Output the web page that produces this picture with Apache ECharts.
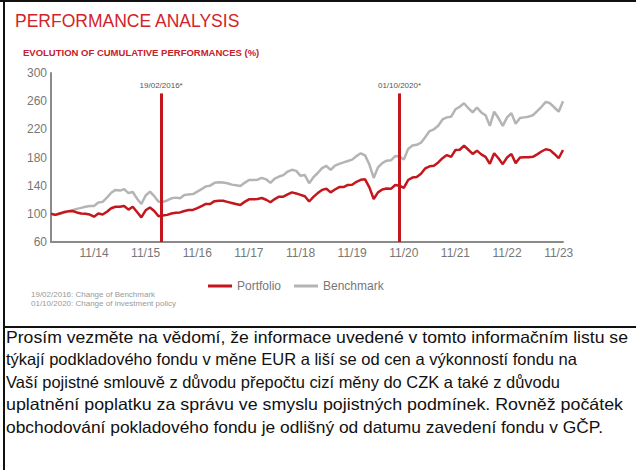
<!DOCTYPE html>
<html>
<head>
<meta charset="utf-8">
<script src="https://cdn.jsdelivr.net/npm/echarts@6/dist/echarts.min.js"></script>
<style>
html,body{margin:0;padding:0;background:#fff;}
#wrap{position:relative;width:636px;height:470px;overflow:hidden;}
#c{position:absolute;left:0;top:0;width:636px;height:470px;}
#para{position:absolute;left:6px;top:0;font-family:'Liberation Sans',Arial,sans-serif;font-size:16.5px;color:#111;}
#para div{position:absolute;left:0;white-space:nowrap;transform-origin:0 50%;line-height:20px;}
</style>
</head>
<body>
<div id="wrap"><div id="c"></div><div id="para"></div></div>
<script>
// Monthly categories Jan 2014 .. Dec 2023
var years = [14,15,16,17,18,19,20,21,22,23];
var categories = [];
years.forEach(function(y){ for (var m=1;m<=12;m++){ categories.push((m<10?'0':'')+m+'/'+y); } });

var portfolio = [
100,98.5,100.5,102.5,103.5,104,102,100.5,100,99,
96,100.5,99,103,108,110,110,111,106,110,
102.5,95,105,109,104,96.5,97.5,98.5,100.5,101.5,
102,104,105.5,105.5,108,111,114,114,118,118.7,
118.5,117,115.5,114,112.6,117,120.6,120.6,121,122.5,
120,116.5,121,124.4,124.4,127.5,130.5,129,127,125,
117.5,124,129.5,134,135.5,130.5,134.5,138,138,141,
141.4,145.5,148.3,149,137.5,121,130.5,134.5,136,135.5,
141,140,137,148,151.5,152.3,157,164.7,167.5,168.3,
173,179,183.5,181,190.7,191,197,191,185,189.7,
184.5,181,171,186,179,170.5,180,185,172,180,
180.3,180.5,181,184.5,188.5,191.7,190.5,185,179,190.7
];
var benchmark = [
100,98.5,100,101.5,103.5,105,107,108.5,110,111,
111,116,117,123,130,134,133,135,129.5,131,
121.5,114,126,131.5,125,117,117,119,122,123,
122,126.8,127.5,128,131.5,135,139,140,144,145,
144.5,143.5,141.5,140.5,139.5,144,148,148,148.5,151,
149,144,150,153,155,160,162.5,161,154,155,
143.5,152,158,165,168,162.5,168.5,171,173,175,
177,182,186,183,170,151,166,172,175.5,176,
182,181.5,177,192,197,198,201,209,217.5,220,
225,234,237,238,248.5,252,257,250,244,251,
244,240,225,245,236,225,237,243,228,236,
237,238,240,246,252,259,257,251,245,260
];
var yTicks = {min:60, max:300, interval:40};
// event markers: position as month index from Jan 2014, label
var eventPos = [25.6, 81];
var eventLabels = ['19/02/2016*', '01/10/2020*'];
var eventTop = 271;
var footnotes = ['19/02/2016: Change of Benchmark', '01/10/2020: Change of investment policy'];
var disclaimer = [
'Prosím vezměte na vědomí, že informace uvedené v tomto informačním listu se',
'týkají podkladového fondu v měne EUR a liší se od cen a výkonností fondu na',
'Vaší pojistné smlouvě z důvodu přepočtu cizí měny do CZK a také z důvodu',
'uplatnění poplatku za správu ve smyslu pojistných podmínek. Rovněž počátek',
'obchodování pokladového fondu je odlišný od datumu zavedení fondu v GČP.'
];

var RED = '#c4161c', GRAY = '#b4b4b4', FONT = 'Liberation Sans, Arial, sans-serif';
var chart = echarts.init(document.getElementById('c'), null, {renderer:'svg'});

var markData = eventPos.map(function(p, k){
  return [{coord:[p, yTicks.min], label:{formatter: eventLabels[k]}}, {coord:[p, eventTop]}];
});

chart.setOption({
  animation:false,
  textStyle:{fontFamily:FONT},
  title:[
    {text:'PERFORMANCE ANALYSIS', left:15, top:12, padding:0, textStyle:{color:'#d2232a', fontSize:17.5, fontWeight:'normal', fontFamily:FONT}},
    {text:'EVOLUTION OF CUMULATIVE PERFORMANCES (%)', left:23, top:47, padding:0, textStyle:{color:'#c8202a', fontSize:9.5, fontWeight:'bold', fontFamily:FONT}}
  ],
  legend:{left:208, top:280, padding:0, itemWidth:24, itemHeight:3, itemGap:13, icon:'rect',
    data:['Portfolio','Benchmark'], textStyle:{color:'#777', fontSize:12, fontFamily:FONT}},
  grid:{left:51, right:73, top:73, bottom:228},
  xAxis:[{
    type:'category', data:categories, boundaryGap:false,
    axisLine:{lineStyle:{color:'#8a8a8a', width:2}},
    axisTick:{show:false},
    axisLabel:{color:'#777', fontSize:12, margin:5,
      interval:function(i, v){ return v.indexOf('11/')===0; }},
    splitLine:{show:false}
  },{
    type:'value', min:0, max:categories.length-1, show:false
  }],
  yAxis:{
    type:'value', min:yTicks.min, max:yTicks.max, interval:yTicks.interval,
    axisLine:{show:true, lineStyle:{color:'#8a8a8a', width:2}},
    axisTick:{show:false},
    splitLine:{show:false},
    axisLabel:{color:'#777', fontSize:12, margin:4}
  },
  series:[
    {name:'Benchmark', type:'line', data:benchmark, showSymbol:false, z:2,
      lineStyle:{color:GRAY, width:2.5}, itemStyle:{color:GRAY}},
    {name:'Portfolio', type:'line', data:portfolio, showSymbol:false, z:3,
      lineStyle:{color:RED, width:2.5}, itemStyle:{color:RED}},
    {name:'events', type:'line', xAxisIndex:1, data:[], z:4,
      markLine:{symbol:'none', silent:true,
        lineStyle:{color:RED, width:3, type:'solid'},
        label:{show:true, position:'end', distance:4, color:'#555', fontSize:8, fontFamily:FONT},
        data:markData}}
  ],
  graphic:[
    {type:'rect', shape:{x:0,y:0,width:636,height:2}, style:{fill:'#111'}},
    {type:'rect', shape:{x:3,y:0,width:2,height:470}, style:{fill:'#111'}},
    {type:'rect', shape:{x:3,y:326,width:633,height:2}, style:{fill:'#111'}},
    {type:'text', left:31, top:290, style:{text:footnotes[0], fill:'#999', fontSize:8, fontFamily:FONT}},
    {type:'text', left:31, top:299, style:{text:footnotes[1], fill:'#999', fontSize:8, fontFamily:FONT}}
  ]
});

// disclaimer paragraph as real text, each line fitted to the reference line length
var lineEnds = [628, 577, 560, 623, 603];
var para = document.getElementById('para');
disclaimer.forEach(function(t, k){
  var d = document.createElement('div');
  d.textContent = t;
  d.style.top = (327 + 22.4*k) + 'px';
  para.appendChild(d);
  var w = d.getBoundingClientRect().width;
  var target = lineEnds[k] - 6;
  d.style.transform = 'scaleX(' + (target / w).toFixed(4) + ')';
});
</script>
</body>
</html>
